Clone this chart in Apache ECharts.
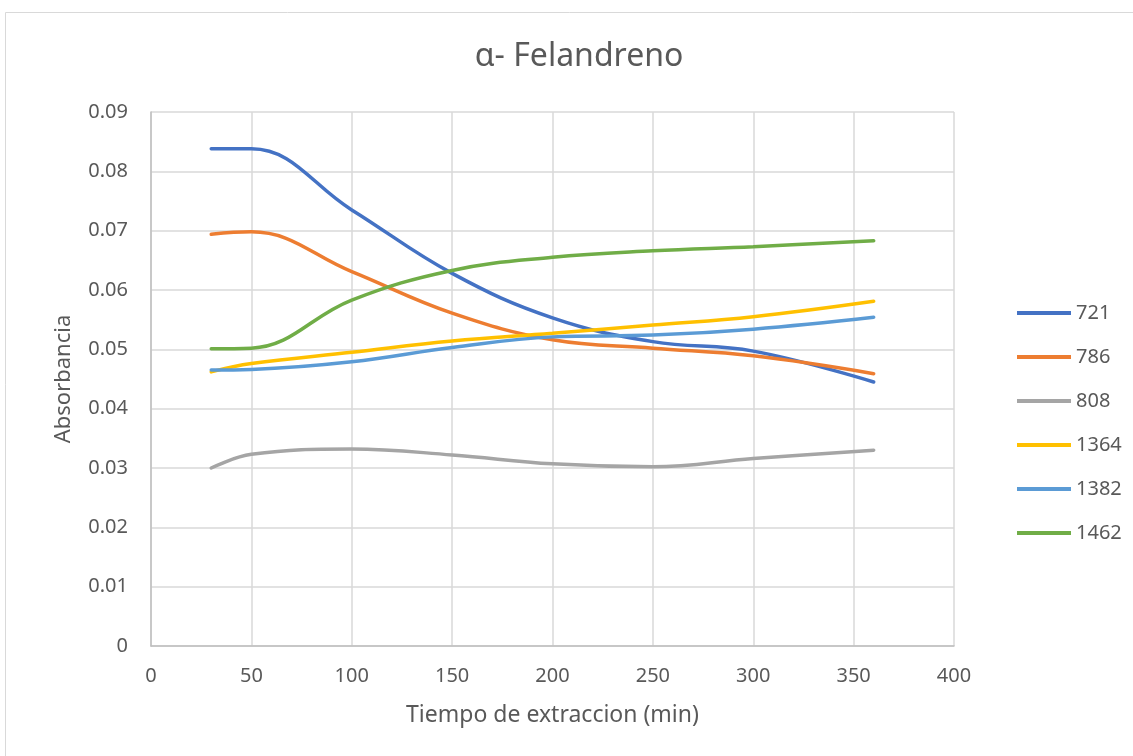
<!DOCTYPE html>
<html>
<head>
<meta charset="utf-8">
<title>α- Felandreno</title>
<script src="https://cdn.jsdelivr.net/npm/echarts@6/dist/echarts.min.js"></script>
<style>
  html, body { margin: 0; padding: 0; background: #ffffff; }
  #chart { width: 1133px; height: 756px; }
</style>
</head>
<body>
<div id="chart"></div>
<script>
// Extraction times (min)
const tiempos = [30, 50, 100, 150, 200, 250, 300, 360];

// Absorbance per wavenumber band
const s721  = [0.0838, 0.0838, 0.0735, 0.0628, 0.0553, 0.0513, 0.0497, 0.0445];
const s786  = [0.0694, 0.0698, 0.0631, 0.0561, 0.0516, 0.0502, 0.0489, 0.0459];
const s808  = [0.0300, 0.0323, 0.0332, 0.0322, 0.0307, 0.0302, 0.0316, 0.0330];
const s1364 = [0.0462, 0.0476, 0.0495, 0.0514, 0.0527, 0.0541, 0.0555, 0.0581];
const s1382 = [0.0465, 0.0466, 0.0479, 0.0503, 0.0521, 0.0524, 0.0534, 0.0554];
const s1462 = [0.0501, 0.0502, 0.0583, 0.0633, 0.0655, 0.0666, 0.0673, 0.0683];

const seriesNames = ['721', '786', '808', '1364', '1382', '1462'];
const seriesValues = [s721, s786, s808, s1364, s1382, s1462];
const colors = ['#4472C4', '#ED7D31', '#A5A5A5', '#FFC000', '#5B9BD5', '#70AD47'];

const FONT = '"Noto Sans", "Open Sans", sans-serif';
const TEXT = '#595959';

const chart = echarts.init(document.getElementById('chart'), null, { renderer: 'canvas' });

chart.setOption({
  backgroundColor: '#ffffff',
  animation: false,
  color: colors,
  textStyle: { fontFamily: FONT, color: TEXT },
  graphic: [{
    type: 'rect',
    shape: { x: 5.5, y: 12.5, width: 1140, height: 760 },
    style: { fill: 'none', stroke: '#d9d9d9', lineWidth: 1 },
    silent: true
  }, {
    // chart title
    type: 'text',
    x: 579,
    y: 57,
    style: {
      text: 'α- Felandreno',
      fontFamily: FONT,
      fontSize: 32,
      fill: TEXT,
      align: 'center',
      verticalAlign: 'middle'
    },
    silent: true
  }],
  legend: {
    orient: 'vertical',
    left: 1012,
    top: 298,
    itemWidth: 54,
    itemHeight: 4,
    itemGap: 24,
    icon: 'rect',
    textStyle: { fontFamily: FONT, fontSize: 20, color: TEXT },
    data: seriesNames
  },
  grid: { left: 151, right: 179, top: 112, bottom: 110, containLabel: false },
  xAxis: {
    type: 'value',
    min: 0, max: 400, interval: 50,
    name: 'Tiempo de extraccion (min)',
    nameLocation: 'middle',
    nameGap: 58,
    nameTextStyle: { fontFamily: FONT, fontSize: 23, color: TEXT },
    axisLine: { show: true, lineStyle: { color: '#bfbfbf', width: 1.5 } },
    axisTick: { show: false },
    axisLabel: { fontFamily: FONT, fontSize: 20, color: TEXT, margin: 20 },
    splitLine: { show: true, lineStyle: { color: '#d9d9d9', width: 1.5 } }
  },
  yAxis: {
    type: 'value',
    min: 0, max: 0.09, interval: 0.01,
    name: 'Absorbancia',
    nameLocation: 'middle',
    nameGap: 76,
    nameTextStyle: { fontFamily: FONT, fontSize: 22, color: TEXT },
    axisLine: { show: true, lineStyle: { color: '#bfbfbf', width: 1.5 } },
    axisTick: { show: false },
    axisLabel: {
      fontFamily: FONT, fontSize: 20, color: TEXT, margin: 23,
      formatter: v => (Math.abs(v) < 1e-9 ? '0' : v.toFixed(2))
    },
    splitLine: { show: true, lineStyle: { color: '#d9d9d9', width: 1.5 } }
  },
  series: seriesNames.map((name, i) => ({
    name: name,
    type: 'line',
    smooth: 0.4,
    showSymbol: false,
    symbol: 'none',
    lineStyle: { width: 3.5, color: colors[i], cap: 'round' },
    itemStyle: { color: colors[i] },
    data: tiempos.map((t, k) => [t, seriesValues[i][k]])
  }))
});
</script>
</body>
</html>
